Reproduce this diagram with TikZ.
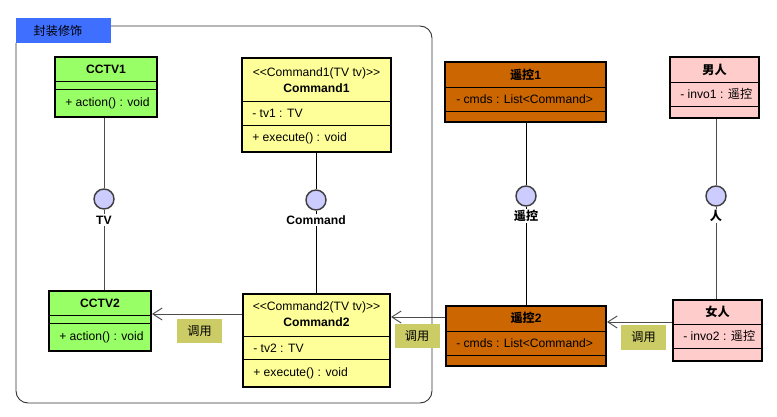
\documentclass[tikz,border=0pt]{standalone}
\usepackage{fontspec}
\setmainfont{Liberation Sans}
\newfontfamily\cjk{Noto Sans CJK SC}
\usetikzlibrary{fit,arrows.meta}
\definecolor{cgreen}{HTML}{99FF66}
\definecolor{cyellow}{HTML}{FFFF99}
\definecolor{corange}{HTML}{CC6600}
\definecolor{cpink}{HTML}{FFCCCC}
\definecolor{clav}{HTML}{CCCCFF}
\definecolor{cblue}{HTML}{3F6FFF}
\definecolor{colive}{HTML}{CCCC66}
\newcommand\fsz{\fontsize{9.1}{10.5}\selectfont}
\begin{document}
\begin{tikzpicture}[x=0.75pt,y=-0.75pt,
  cls/.style={draw=black,line width=1.5pt,inner sep=0pt},
  sep/.style={draw=black,line width=0.6pt},
  txt/.style={font=\fsz,inner sep=0pt},
  ltxt/.style={txt,anchor=west},
  btxt/.style={font=\fsz\bfseries,inner sep=0pt},
  lolly/.style={circle,draw=black!75,fill=clav,line width=1.1pt,minimum size=15pt,inner sep=0pt},
  llab/.style={font=\fsz\bfseries,fill=white,inner sep=1pt},
  conn/.style={draw=black!70,line width=0.7pt},
  call/.style={draw=black!70,line width=0.7pt,-{Straight Barb[length=7pt,width=9pt,line width=0.7pt]}},
  tag/.style={fill=colive,font=\fsz\cjk,minimum width=33.75pt,minimum height=18.5pt,inner sep=0pt}
]
\useasboundingbox (0,0) rectangle (777,417);
% package frame
\draw[black!80,line width=0.7pt] (111,26) [rounded corners=9pt] -- (432,26) -- (432,403) -- (16,403) -- (16,43);
\node[fill=cblue,inner sep=0pt,fit={(16,18)(111,43)}] (pkg) {};
\node[txt,font=\fsz\cjk] at (58,31) {封装修饰};

% CCTV1
\node[cls,fill=cgreen,fit={(55,57)(157,117)}] (cctv1) {};
\draw[sep] (55,81) -- (157,81); \draw[sep] (55,89) -- (157,89);
\node[btxt] at (106,69) {CCTV1};
\node[ltxt] at (65,103) {+ action() : void};

% Command1
\node[cls,fill=cyellow,fit={(242,58)(391,152)}] (cmd1) {};
\draw[sep] (242,101) -- (391,101); \draw[sep] (242,125) -- (391,125);
\node[txt] at (316.5,73) {<\kern0pt<Command1(TV tv)>\kern0pt>};
\node[btxt] at (316.5,88) {Command1};
\node[ltxt] at (252,113) {- tv1 : TV};
\node[ltxt] at (252,138) {+ execute() : void};

% Remote1
\node[cls,fill=corange,fit={(445,62)(606,122)}] (rc1) {};
\draw[sep] (445,87) -- (606,87); \draw[sep] (445,111) -- (606,111);
\node[btxt] at (525.5,75) {{\cjk 遥控}1};
\node[ltxt] at (456,99) {- cmds : List<Command>};

% Man
\node[cls,fill=cpink,fit={(670,57)(759,118)}] (man) {};
\draw[sep] (670,82) -- (759,82); \draw[sep] (670,106) -- (759,106);
\node[btxt,font=\fsz\cjk\bfseries] at (714.5,70) {男人};
\node[ltxt] at (680,94) {- invo1 : {\cjk 遥控}};

% CCTV2
\node[cls,fill=cgreen,fit={(49,291)(151,351)}] (cctv2) {};
\draw[sep] (49,315) -- (151,315); \draw[sep] (49,323) -- (151,323);
\node[btxt] at (100,303) {CCTV2};
\node[ltxt] at (59,337) {+ action() : void};

% Command2
\node[cls,fill=cyellow,fit={(243,294)(390,387)}] (cmd2) {};
\draw[sep] (243,336) -- (390,336); \draw[sep] (243,359) -- (390,359);
\node[txt] at (316.5,307) {<\kern0pt<Command2(TV tv)>\kern0pt>};
\node[btxt] at (316.5,322) {Command2};
\node[ltxt] at (253,348) {- tv2 : TV};
\node[ltxt] at (253,373) {+ execute() : void};

% Remote2
\node[cls,fill=corange,fit={(446,306)(606,366)}] (rc2) {};
\draw[sep] (446,331) -- (606,331); \draw[sep] (446,355) -- (606,355);
\node[btxt] at (526,318) {{\cjk 遥控}2};
\node[ltxt] at (456,343) {- cmds : List<Command>};

% Woman
\node[cls,fill=cpink,fit={(673,300)(762,361)}] (woman) {};
\draw[sep] (673,324) -- (762,324); \draw[sep] (673,348) -- (762,348);
\node[btxt,font=\fsz\cjk\bfseries] at (717.5,312) {女人};
\node[ltxt] at (683,336) {- invo2 : {\cjk 遥控}};

% lollipops
\node[lolly] (tv) at (104,199) {};
\draw[conn] (cctv1.south -| tv.north) -- (tv.north);
\draw[conn] (tv.south) -- (cctv2.north -| tv.south);
\node[llab] (tvl) at (104,220) {TV};

\node[lolly] (cmd) at (316,200) {};
\draw[conn,draw=black] (cmd1.south -| cmd.north) -- (cmd.north);
\draw[conn,draw=black] (cmd.south) -- (cmd2.north -| cmd.south);
\node[llab] (cmdl) at (316,220) {Command};

\node[lolly] (rc) at (526,196) {};
\draw[conn,draw=black] (rc1.south -| rc.north) -- (rc.north);
\draw[conn,draw=black] (rc.south) -- (rc2.north -| rc.south);
\node[llab,font=\fsz\cjk\bfseries] (rcl) at (526,216) {遥控};

\node[lolly] (person) at (716,196) {};
\draw[conn] (man.south -| person.north) -- (person.north);
\draw[conn] (person.south) -- (woman.north -| person.south);
\node[llab,font=\fsz\cjk\bfseries] (pl) at (716,216) {人};

% calls
\draw[call] (cmd2.west |- 0,314) -- (cctv2.east |- 0,314);
\node[tag] (t1) at (199.5,331) {调用};
\draw[call] (rc2.west |- 0,317) -- (cmd2.east |- 0,317);
\node[tag] (t2) at (417,336) {调用};
\draw[call] (woman.west |- 0,322) -- (rc2.east |- 0,322);
\node[tag] (t3) at (643.5,337.5) {调用};
\end{tikzpicture}
\end{document}
